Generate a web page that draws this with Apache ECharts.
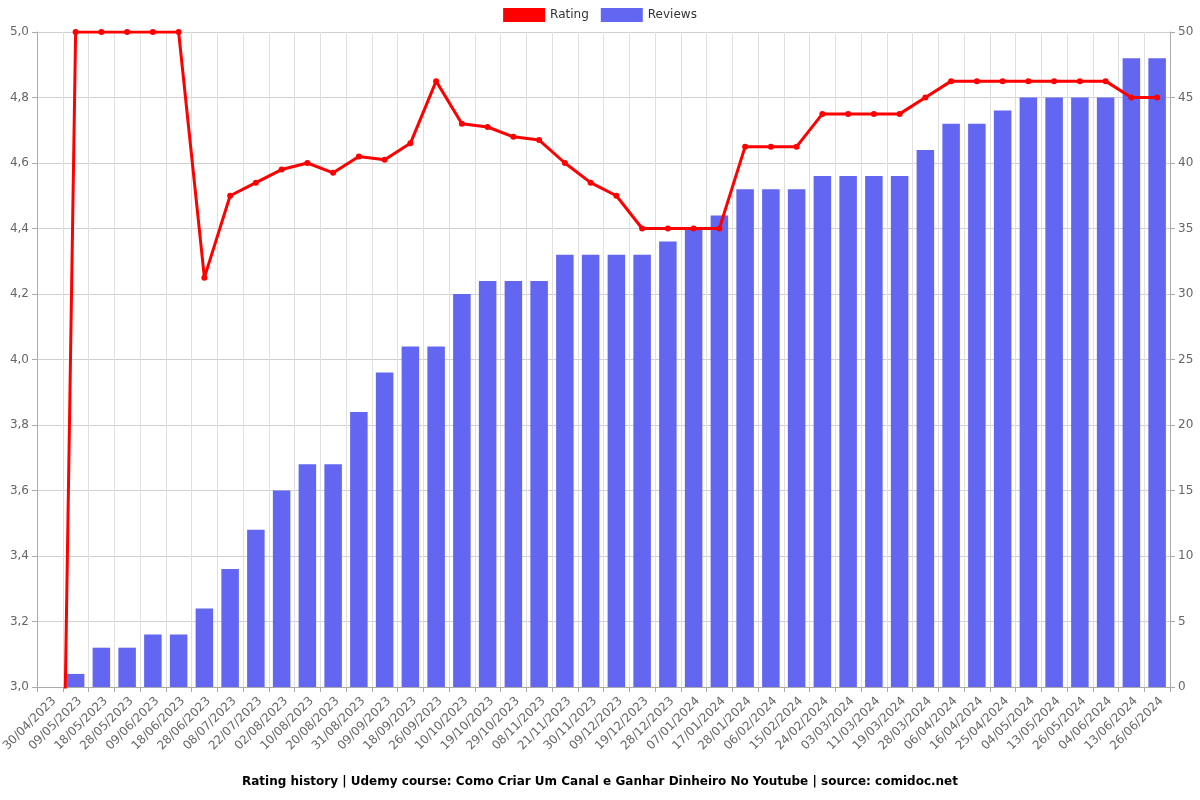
<!DOCTYPE html>
<html>
<head>
<meta charset="utf-8">
<script src="https://cdn.jsdelivr.net/npm/echarts@6/dist/echarts.min.js"></script>
<style>
  html, body { margin: 0; padding: 0; background: #fff; }
  #chart { width: 1200px; height: 800px; }
</style>
</head>
<body>
<div id="chart"></div>
<script>
let dates = ['30/04/2023','09/05/2023','18/05/2023','28/05/2023','09/06/2023','18/06/2023','28/06/2023','08/07/2023',
    '22/07/2023','02/08/2023','10/08/2023','20/08/2023','31/08/2023','09/09/2023','18/09/2023','26/09/2023',
    '10/10/2023','19/10/2023','29/10/2023','08/11/2023','21/11/2023','30/11/2023','09/12/2023','19/12/2023',
    '28/12/2023','07/01/2024','17/01/2024','28/01/2024','06/02/2024','15/02/2024','24/02/2024','03/03/2024',
    '11/03/2024','19/03/2024','28/03/2024','06/04/2024','16/04/2024','25/04/2024','04/05/2024','13/05/2024',
    '26/05/2024','04/06/2024','13/06/2024','26/06/2024'];

let rating = [0, 5, 5, 5, 5, 5, 4.25, 4.5, 4.54, 4.58, 4.6, 4.57, 4.62, 4.61, 4.66, 4.85,
    4.72, 4.71, 4.68, 4.67, 4.6, 4.54, 4.5, 4.4, 4.4, 4.4, 4.4, 4.65, 4.65, 4.65, 4.75, 4.75,
    4.75, 4.75, 4.8, 4.85, 4.85, 4.85, 4.85, 4.85, 4.85, 4.85, 4.8, 4.8];

let reviews = [0, 1, 3, 3, 4, 4, 6, 9, 12, 15, 17, 17, 21, 24, 26, 26,
    30, 31, 31, 31, 33, 33, 33, 33, 34, 35, 36, 38, 38, 38, 39, 39,
    39, 39, 41, 43, 43, 44, 45, 45, 45, 45, 48, 48];

let titleText = 'Rating history | Udemy course: Como Criar Um Canal e Ganhar Dinheiro No Youtube | source: comidoc.net';

let chart = echarts.init(document.getElementById('chart'));

let axisLabel = { color: '#666', fontSize: 12, fontFamily: 'DejaVu Sans' };
let gridLine = { show: true, lineStyle: { color: '#d0d0d0', width: 1 } };

chart.setOption({
    animation: false,
    textStyle: { fontFamily: 'DejaVu Sans' },
    title: {
        text: titleText,
        left: 'center',
        bottom: 7,
        textStyle: { fontSize: 12, fontWeight: 'bold', color: '#000', fontFamily: 'DejaVu Sans' }
    },
    legend: {
        top: 8,
        left: 'center',
        itemWidth: 42,
        itemHeight: 14,
        itemGap: 12,
        padding: 0,
        textStyle: { color: '#333', fontSize: 12, fontFamily: 'DejaVu Sans' },
        data: [
            { name: 'Rating', icon: 'rect' },
            { name: 'Reviews', icon: 'rect' }
        ]
    },
    grid: { left: 37, right: 30, top: 32, bottom: 113, containLabel: false, outerBoundsMode: 'none' },
    xAxis: {
        type: 'category',
        data: dates,
        boundaryGap: true,
        axisLine: { lineStyle: { color: '#aaa' } },
        axisTick: { show: true, lineStyle: { color: '#aaa' } },
        axisLabel: Object.assign({ rotate: 45, interval: 0, margin: 8, verticalAlign: 'top' }, axisLabel),
        splitLine: { show: true, lineStyle: { color: '#e0e0e0' } }
    },
    yAxis: [
        {
            type: 'value',
            min: 3,
            max: 5,
            interval: 0.2,
            axisLine: { show: true, lineStyle: { color: '#aaa' } },
            axisTick: { show: true, lineStyle: { color: '#aaa' } },
            axisLabel: Object.assign({
                formatter: function (v) { return v.toFixed(1).replace('.', ','); }
            }, axisLabel),
            splitLine: gridLine
        },
        {
            type: 'value',
            min: 0,
            max: 50,
            interval: 5,
            axisLine: { show: true, lineStyle: { color: '#aaa' } },
            axisTick: { show: true, lineStyle: { color: '#aaa' } },
            axisLabel: axisLabel,
            splitLine: { show: false }
        }
    ],
    series: [
        {
            name: 'Rating',
            type: 'line',
            yAxisIndex: 0,
            data: rating,
            z: 3,
            symbol: 'circle',
            symbolSize: 6,
            clip: true,
            itemStyle: { color: '#ff0000' },
            lineStyle: { color: '#ff0000', width: 3 }
        },
        {
            name: 'Reviews',
            type: 'bar',
            yAxisIndex: 1,
            data: reviews,
            z: 2,
            barWidth: '68%',
            itemStyle: { color: '#6366f1' }
        }
    ]
});
</script>
</body>
</html>
